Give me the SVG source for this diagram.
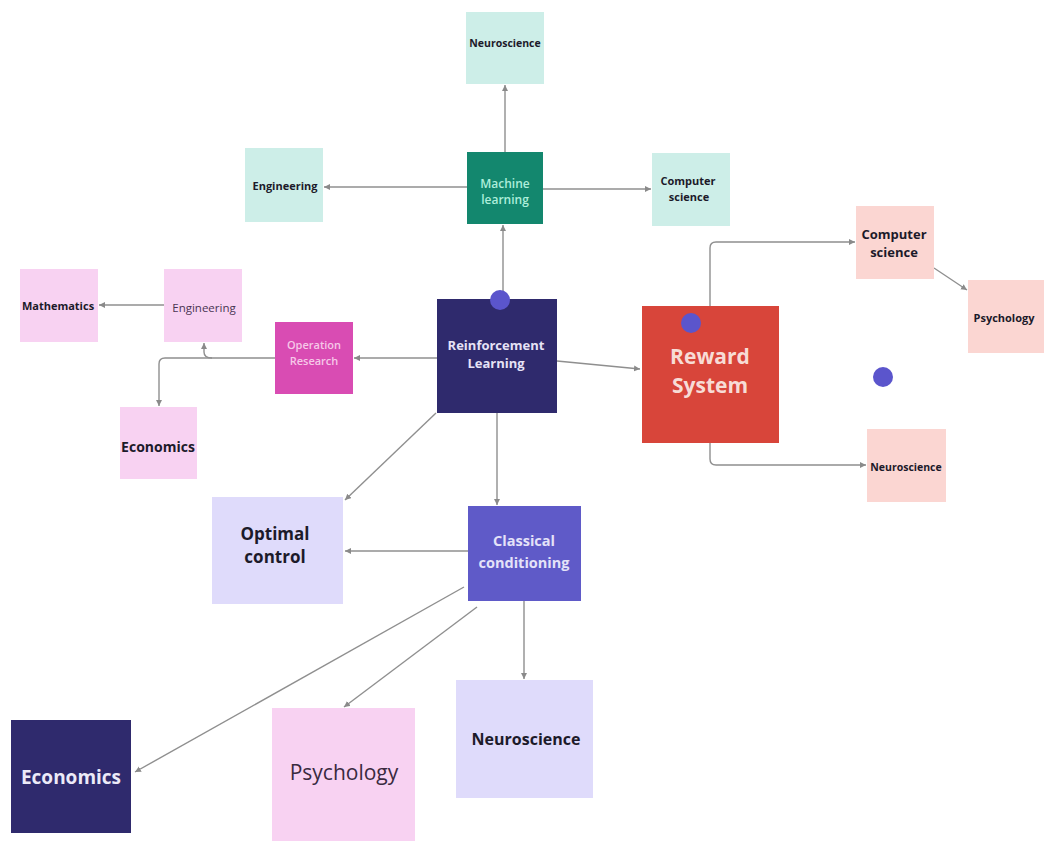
<svg xmlns="http://www.w3.org/2000/svg" width="1044" height="841" viewBox="0 0 1044 841">
<defs>
<marker id="ah" markerUnits="userSpaceOnUse" markerWidth="7" markerHeight="7" refX="6" refY="3" orient="auto">
<path d="M0,0 L6,3 L0,6 z" fill="#8a8a8a"/>
</marker>
<style>
.t{font-family:"Open Sans","Liberation Sans",sans-serif;text-anchor:middle;dominant-baseline:central}
.b{font-weight:700}
.s{font-weight:600}
.dk{fill:#1c1a2a}
.c{fill:none;stroke:#8f8f8f;stroke-width:1.4;marker-end:url(#ah)}
.teal{fill:#cdeee8}
.pink{fill:#f8d2f2}
.peach{fill:#fbd6d2}
.lav{fill:#dfdbfb}
.dot{fill:#5b55cc}
</style>
</defs>
<rect width="1044" height="841" fill="#ffffff"/>

<g id="connectors">
<path class="c" d="M503,300 V225"/>
<path class="c" d="M505,152 V85"/>
<path class="c" d="M467,187 H324"/>
<path class="c" d="M543,189 H651"/>
<path class="c" d="M437,358 H354"/>
<path class="c" d="M275,358 H165 Q159,358 159,364 V406"/>
<path class="c" d="M212,358 Q204,358 204,352 V343"/>
<path class="c" d="M164,305 H99"/>
<path class="c" d="M557,361 L640,369"/>
<path class="c" d="M710,306 V248 Q710,242 716,242 H855"/>
<path class="c" d="M710,443 V459 Q710,465 716,465 H866"/>
<path class="c" d="M934,268 L967,290"/>
<path class="c" d="M497,413 V505"/>
<path class="c" d="M436,413 L345,500"/>
<path class="c" d="M468,551 H345"/>
<path class="c" d="M464,587 L135,772"/>
<path class="c" d="M477,607 L344,707"/>
<path class="c" d="M524,601 V679"/>
</g>

<g id="ml-neuroscience">
<rect class="teal" x="466" y="12" width="78" height="72"/>
<text class="t b dk" x="505" y="43" font-size="10.5">Neuroscience</text>
</g>
<g id="machine-learning">
<rect x="467" y="152" width="76" height="72" fill="#13876e"/>
<text class="t s" x="505" y="183" font-size="12" fill="#aeeedb">Machine</text>
<text class="t s" x="505" y="199" font-size="12" fill="#aeeedb">learning</text>
</g>
<g id="ml-engineering">
<rect class="teal" x="245" y="148" width="78" height="74"/>
<text class="t b dk" x="285" y="185" font-size="11">Engineering</text>
</g>
<g id="ml-computer-science">
<rect class="teal" x="652" y="153" width="78" height="73"/>
<text class="t b dk" x="688" y="180" font-size="11">Computer</text>
<text class="t b dk" x="689" y="196" font-size="11">science</text>
</g>

<g id="mathematics">
<rect class="pink" x="20" y="269" width="78" height="73"/>
<text class="t b dk" x="58" y="305" font-size="11">Mathematics</text>
</g>
<g id="or-engineering">
<rect class="pink" x="164" y="269" width="78" height="73"/>
<text class="t" x="204" y="307" font-size="11.5" fill="#4a3552">Engineering</text>
</g>
<g id="operation-research">
<rect x="275" y="322" width="78" height="72" fill="#d94cb3"/>
<text class="t s" x="314" y="344" font-size="11" fill="#f6c8e8">Operation</text>
<text class="t s" x="314" y="360" font-size="11" fill="#f6c8e8">Research</text>
</g>
<g id="or-economics">
<rect class="pink" x="120" y="407" width="77" height="72"/>
<text class="t b dk" x="158" y="446" font-size="14">Economics</text>
</g>

<g id="reinforcement-learning">
<rect x="437" y="299" width="120" height="114" fill="#2f2a6d"/>
<text class="t b" x="496" y="345" font-size="13" fill="#e6e2f6">Reinforcement</text>
<text class="t b" x="496" y="363" font-size="13" fill="#e6e2f6">Learning</text>
<circle class="dot" cx="500" cy="300" r="10"/>
</g>

<g id="reward-system">
<rect x="642" y="306" width="137" height="137" fill="#d8453a"/>
<text class="t b" x="710" y="356" font-size="21" fill="#f7dcd6">Reward</text>
<text class="t b" x="710" y="385" font-size="21" fill="#f7dcd6">System</text>
<circle class="dot" cx="691" cy="323" r="10"/>
</g>
<g id="rs-computer-science">
<rect class="peach" x="856" y="206" width="78" height="73"/>
<text class="t b dk" x="894" y="234" font-size="13">Computer</text>
<text class="t b dk" x="894" y="252" font-size="13">science</text>
</g>
<g id="rs-psychology">
<rect class="peach" x="968" y="280" width="76" height="73"/>
<text class="t b dk" x="1004" y="317" font-size="11">Psychology</text>
</g>
<g id="rs-neuroscience">
<rect class="peach" x="867" y="429" width="79" height="73"/>
<text class="t b dk" x="906" y="467" font-size="10.5">Neuroscience</text>
</g>
<circle id="free-dot" class="dot" cx="883" cy="377" r="10"/>

<g id="optimal-control">
<rect class="lav" x="212" y="497" width="131" height="107"/>
<text class="t b dk" x="275" y="533" font-size="17">Optimal</text>
<text class="t b dk" x="275" y="556" font-size="17">control</text>
</g>
<g id="classical-conditioning">
<rect x="468" y="506" width="113" height="95" fill="#5f5ac8"/>
<text class="t b" x="524" y="540" font-size="14.5" fill="#e4e2f8">Classical</text>
<text class="t b" x="524" y="562" font-size="14.5" fill="#e4e2f8">conditioning</text>
</g>

<g id="cc-economics">
<rect x="11" y="720" width="120" height="113" fill="#2f2a6d"/>
<text class="t b" x="71" y="777" font-size="19" fill="#eceaf8">Economics</text>
</g>
<g id="cc-psychology">
<rect class="pink" x="272" y="708" width="143" height="133"/>
<text class="t" x="344" y="772" font-size="21" fill="#3a2a40">Psychology</text>
</g>
<g id="cc-neuroscience">
<rect class="lav" x="456" y="680" width="137" height="118"/>
<text class="t b dk" x="526" y="739" font-size="16">Neuroscience</text>
</g>
</svg>
